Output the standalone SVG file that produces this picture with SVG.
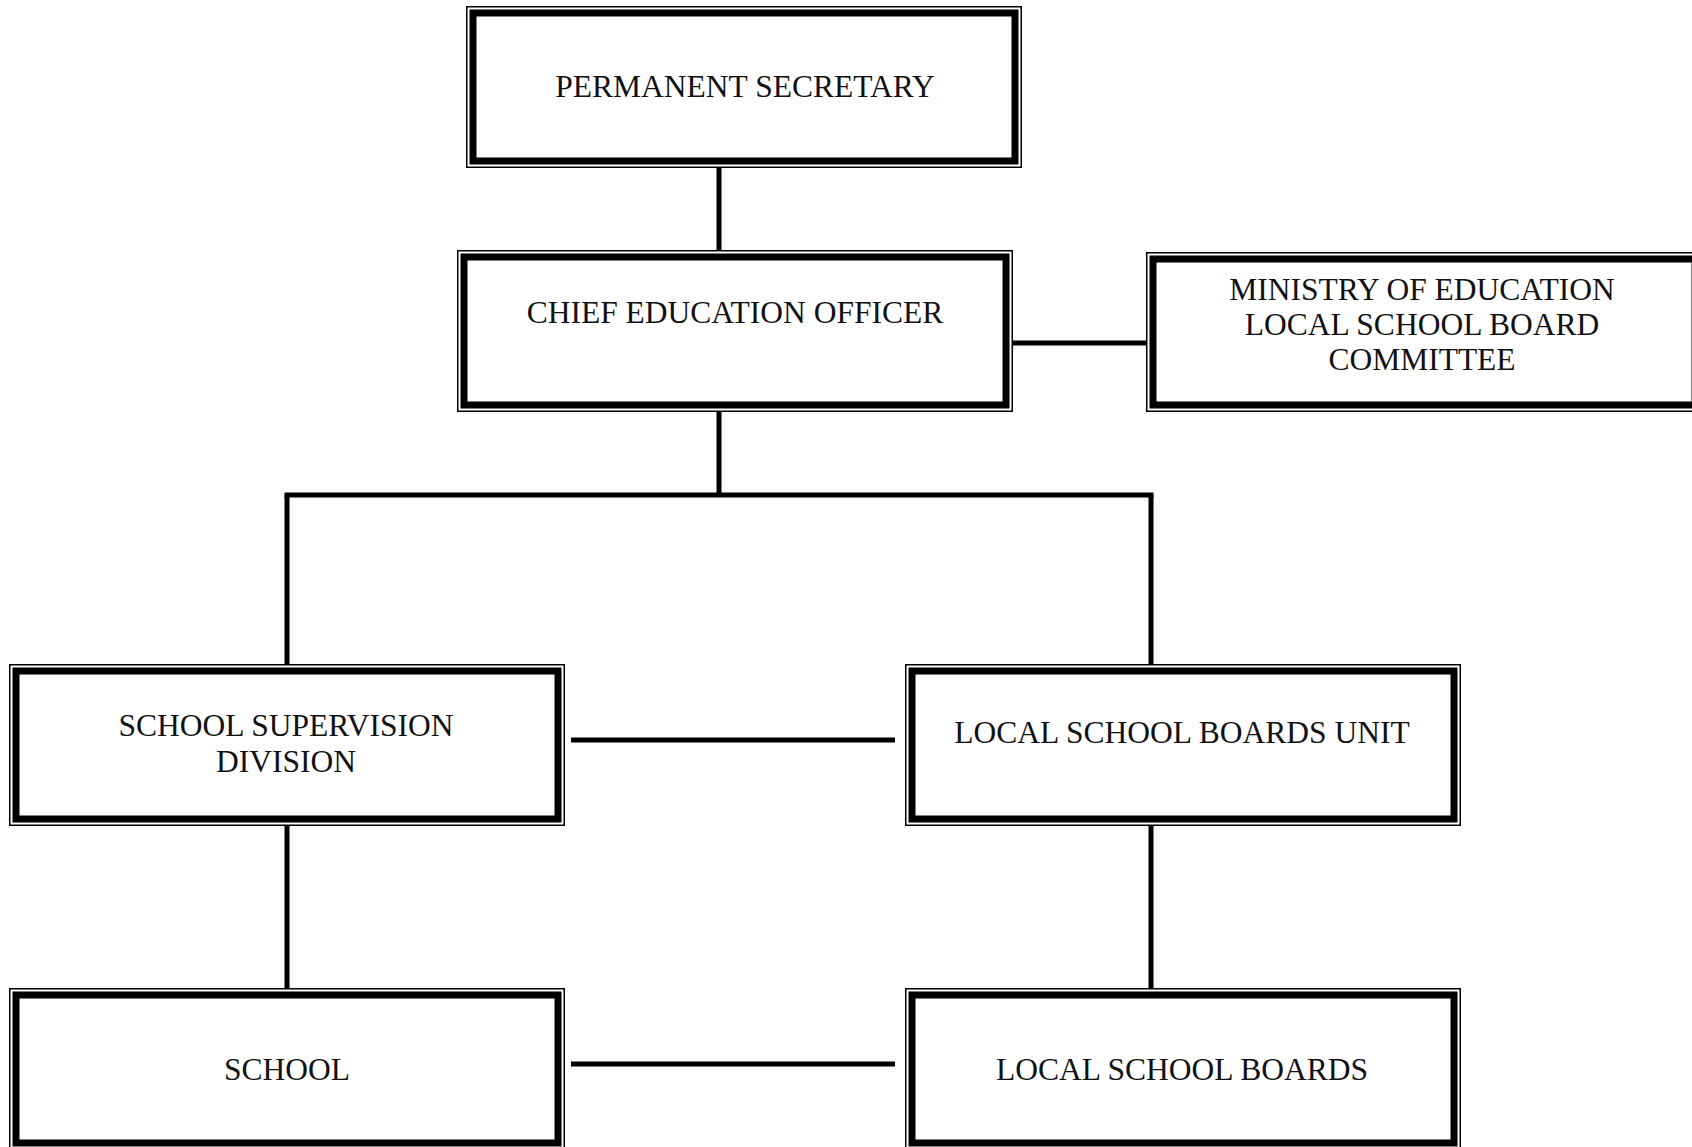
<svg xmlns="http://www.w3.org/2000/svg" width="1692" height="1147" viewBox="0 0 1692 1147">
<style>
.thin{fill:none;stroke:#000;stroke-width:1.5}
.thick{fill:#fff;stroke:#000;stroke-width:7}
.t{font-family:"Liberation Serif","Times New Roman",serif;font-size:31.5px;fill:#111;text-anchor:middle}
.c{stroke:#000;stroke-width:5;fill:none}
</style>
<rect width="1692" height="1147" fill="#fff"/>
<g id="connectors">
<line class="c" x1="719" y1="168" x2="719" y2="250"/>
<line class="c" x1="719" y1="412" x2="719" y2="495"/>
<line class="c" x1="284.5" y1="495" x2="1153.5" y2="495"/>
<line class="c" x1="287" y1="495" x2="287" y2="664"/>
<line class="c" x1="1151" y1="495" x2="1151" y2="664"/>
<line class="c" x1="1012" y1="343" x2="1146" y2="343"/>
<line class="c" x1="571" y1="740" x2="895" y2="740"/>
<line class="c" x1="287" y1="826" x2="287" y2="988"/>
<line class="c" x1="1151" y1="826" x2="1151" y2="988"/>
<line class="c" x1="571" y1="1064" x2="895" y2="1064"/>
</g>
<g id="permanent-secretary">
<rect class="thin" x="466.75" y="6.75" width="554.5" height="160.5"/>
<rect class="thick" x="473" y="13" width="542" height="148"/>
<text class="t" x="745" y="97">PERMANENT SECRETARY</text>
</g>
<g id="chief-education-officer">
<rect class="thin" x="457.75" y="250.75" width="554.5" height="160.5"/>
<rect class="thick" x="464" y="257" width="542" height="148"/>
<text class="t" x="735" y="323">CHIEF EDUCATION OFFICER</text>
</g>
<g id="ministry-committee">
<rect class="thin" x="1146.75" y="252.75" width="554.5" height="158.5"/>
<rect class="thick" x="1153" y="259" width="542" height="146"/>
<text class="t" x="1422" y="300">MINISTRY OF EDUCATION</text>
<text class="t" x="1422" y="335">LOCAL SCHOOL BOARD</text>
<text class="t" x="1422" y="370">COMMITTEE</text>
</g>
<g id="school-supervision-division">
<rect class="thin" x="9.75" y="664.75" width="554.5" height="160.5"/>
<rect class="thick" x="16" y="671" width="542" height="148"/>
<text class="t" x="286" y="736">SCHOOL SUPERVISION</text>
<text class="t" x="286" y="772">DIVISION</text>
</g>
<g id="local-school-boards-unit">
<rect class="thin" x="905.75" y="664.75" width="554.5" height="160.5"/>
<rect class="thick" x="912" y="671" width="542" height="148"/>
<text class="t" x="1182" y="743">LOCAL SCHOOL BOARDS UNIT</text>
</g>
<g id="school">
<rect class="thin" x="9.75" y="988.75" width="554.5" height="160.5"/>
<rect class="thick" x="16" y="995" width="542" height="148"/>
<text class="t" x="287" y="1080">SCHOOL</text>
</g>
<g id="local-school-boards">
<rect class="thin" x="905.75" y="988.75" width="554.5" height="160.5"/>
<rect class="thick" x="912" y="995" width="542" height="148"/>
<text class="t" x="1182" y="1080">LOCAL SCHOOL BOARDS</text>
</g>
</svg>
